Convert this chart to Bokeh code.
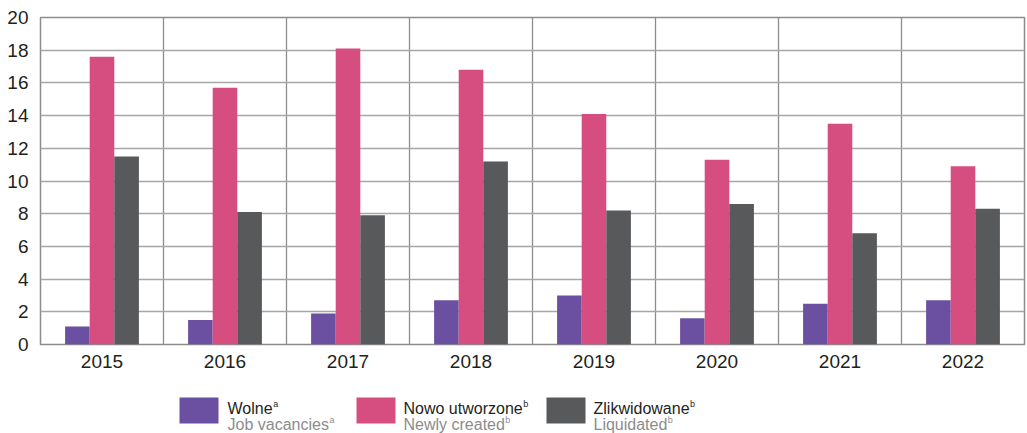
from bokeh.plotting import figure
from bokeh.models import Range1d, FixedTicker, ColumnDataSource
from bokeh.layouts import column
from bokeh.transform import dodge
from bokeh.core.properties import value
from bokeh.embed import file_html
from bokeh.resources import INLINE

# ---- data ----
years = [2015, 2016, 2017, 2018, 2019, 2020, 2021, 2022]
vacancies = [1.1, 1.5, 1.9, 2.7, 3.0, 1.6, 2.5, 2.7]
created = [17.6, 15.7, 18.1, 16.8, 14.1, 11.3, 13.5, 10.9]
liquidated = [11.5, 8.1, 7.9, 11.2, 8.2, 8.6, 6.8, 8.3]
y_ticks = [0, 2, 4, 6, 8, 10, 12, 14, 16, 18, 20]

series_pl = ["Wolne", "Nowo utworzone", "Zlikwidowane"]
series_en = ["Job vacancies", "Newly created", "Liquidated"]
series_note = ["a", "b", "b"]
colors = ["#6B4FA0", "#D64E7F", "#58595B"]

FONT = "Liberation Sans"
TXT = "#231F20"
GREY_TXT = "#8C8C8C"

src = ColumnDataSource(dict(x=list(range(len(years))), vac=vacancies,
                            cre=created, liq=liquidated))

p = figure(width=1027, height=378, x_range=Range1d(-0.5, len(years) - 0.5),
           y_range=Range1d(0, 20), output_backend="svg", toolbar_location=None,
           min_border_left=40, min_border_right=3, min_border_top=17,
           min_border_bottom=34)

for off, col, c in zip([-0.2, 0.0, 0.2], ["vac", "cre", "liq"], colors):
    p.vbar(x=dodge("x", off, range=p.x_range), top=col, width=0.2,
           source=src, fill_color=c, line_color=None)

p.yaxis.ticker = FixedTicker(ticks=y_ticks)
p.xaxis.ticker = FixedTicker(ticks=list(range(len(years))))
p.xaxis.major_label_overrides = {i: str(y) for i, y in enumerate(years)}
for ax in (p.xaxis, p.yaxis):
    ax.axis_line_color = None
    ax.major_tick_line_color = None
    ax.minor_tick_line_color = None
    ax.major_tick_out = 0
    ax.major_tick_in = 0
    ax.minor_tick_out = 0
    ax.major_label_text_font = FONT
    ax.major_label_text_font_size = "19px"
    ax.major_label_text_color = TXT
p.yaxis.major_label_standoff = 12
p.xaxis.major_label_standoff = 10

p.ygrid.ticker = FixedTicker(ticks=y_ticks)
p.ygrid.grid_line_color = "#A6A6A6"
p.ygrid.grid_line_width = 1.5
p.xgrid.ticker = FixedTicker(ticks=[i + 0.5 for i in range(len(years) - 1)])
p.xgrid.grid_line_color = "#8C8C8C"
p.xgrid.grid_line_width = 1.3
p.outline_line_color = "#8C8C8C"
p.outline_line_width = 1.5

# ---- legend as separate figure (frame aligned with main frame: x 40..1024) ----
W = dict(W=.944, o=.556, l=.222, n=.556, e=.556, J=.5, b=.556, v=.5, a=.556,
         c=.5, i=.222, s=.5, N=.722, w=.722, u=.556, t=.278, r=.333, z=.5,
         y=.5, d=.556, Z=.611, k=.5, L=.556, q=.556)
W[" "] = .278


def tw(s, size):
    return sum(W.get(ch, .556) for ch in s) * size


LEG_TOP, LEG_H = 378, 55
lf = figure(width=1027, height=LEG_H, x_range=Range1d(40, 1024),
            y_range=Range1d(LEG_TOP + LEG_H, LEG_TOP), output_backend="svg",
            toolbar_location=None, min_border=0, min_border_left=40,
            min_border_right=3, x_axis_location=None, y_axis_location=None)
lf.grid.visible = False
lf.outline_line_color = None

sq_left = [179, 356, 546]
txt_left = [227, 403, 593]
FS = 16
for k in range(3):
    lf.quad(left=[sq_left[k]], right=[sq_left[k] + 39], top=[397], bottom=[423],
            fill_color=colors[k], line_color=None)
    for s, yb, c in ((series_pl[k], 408, TXT), (series_en[k], 424, GREY_TXT)):
        lf.text(x=[txt_left[k]], y=[yb], text=[s], text_color=c,
                text_font=value(FONT), text_font_size=f"{FS}px",
                text_baseline="alphabetic", text_align="left")
        lf.text(x=[txt_left[k] + tw(s, FS) + 0.5], y=[yb - 5],
                text=[series_note[k]], text_color=c,
                text_font=value(FONT), text_font_size="9px",
                text_baseline="alphabetic", text_align="left")

layout = column(p, lf)
open("out.html", "w").write(file_html(layout, INLINE))
